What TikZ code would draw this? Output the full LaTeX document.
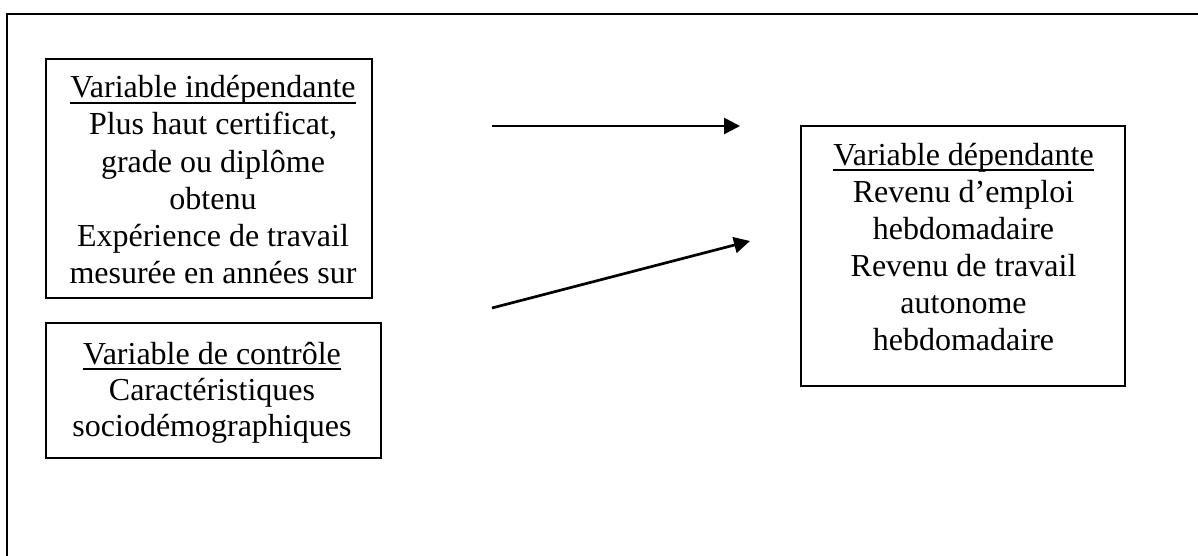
\documentclass[tikz,border=0pt]{standalone}
\usepackage{fontspec}
\setmainfont{Liberation Serif}
\usetikzlibrary{arrows.meta}
\tikzset{
  frame/.style={line width=2.2pt, line cap=rect},
  box/.style={draw, line width=2.2pt, inner sep=0pt, rectangle},
  txt/.style={anchor=base, inner sep=0pt, font=\fontsize{32pt}{37pt}\selectfont},
  uline/.style={line width=1.4pt},
  conn/.style={line width=2.7pt, -{Triangle[length=16pt,width=16pt]}}
}
\begin{document}
\begin{tikzpicture}[x=1pt,y=-1pt]
\useasboundingbox (0,0) rectangle (1198,556);
% outer frame (open at right and bottom)
\coordinate (fb) at (7,560);
\coordinate (fc) at (7,14);
\coordinate (fr) at (1202,14);
\draw[frame] (fb) -- (fc) -- (fr);

% boxes
\node[box, minimum width=326pt, minimum height=239pt] (b1) at (209,178.5) {};
\node[box, minimum width=335pt, minimum height=135pt] (b2) at (213.5,390.5) {};
\node[box, minimum width=324pt, minimum height=260pt] (b3) at (963,256) {};

% box 1 text
\node[txt] (h1) at (213,98) {Variable indépendante};
\node[txt] (l11) at (213,135) {Plus haut certificat,};
\node[txt] (l12) at (213,172) {grade ou diplôme};
\node[txt] (l13) at (213,209) {obtenu};
\node[txt] (l14) at (213,246) {Expérience de travail};
\node[txt] (l15) at (213,283) {mesurée en années sur};
\draw[uline] ([yshift=-5pt]h1.base west) -- ([yshift=-5pt]h1.base east);

% box 2 text
\node[txt] (h2) at (212,364) {Variable de contrôle};
\node[txt] (l21) at (212,400) {Caractéristiques};
\node[txt] (l22) at (212,436) {sociodémographiques};
\draw[uline] ([yshift=-5pt]h2.base west) -- ([yshift=-5pt]h2.base east);

% box 3 text
\node[txt] (h3) at (963.5,165) {Variable dépendante};
\node[txt] (l31) at (963.5,202) {Revenu d’emploi};
\node[txt] (l32) at (963.5,239) {hebdomadaire};
\node[txt] (l33) at (963.5,276) {Revenu de travail};
\node[txt] (l34) at (963.5,313) {autonome};
\node[txt] (l35) at (963.5,350) {hebdomadaire};
\draw[uline] ([yshift=-5pt]h3.base west) -- ([yshift=-5pt]h3.base east);

% arrows
\coordinate (a1s) at (492,126);
\coordinate (a1e) at (740,126);
\coordinate (a2s) at (492,308);
\coordinate (a2e) at (750,241);
\draw[conn] (a1s) -- (a1e);
\draw[conn] (a2s) -- (a2e);
\end{tikzpicture}
\end{document}
